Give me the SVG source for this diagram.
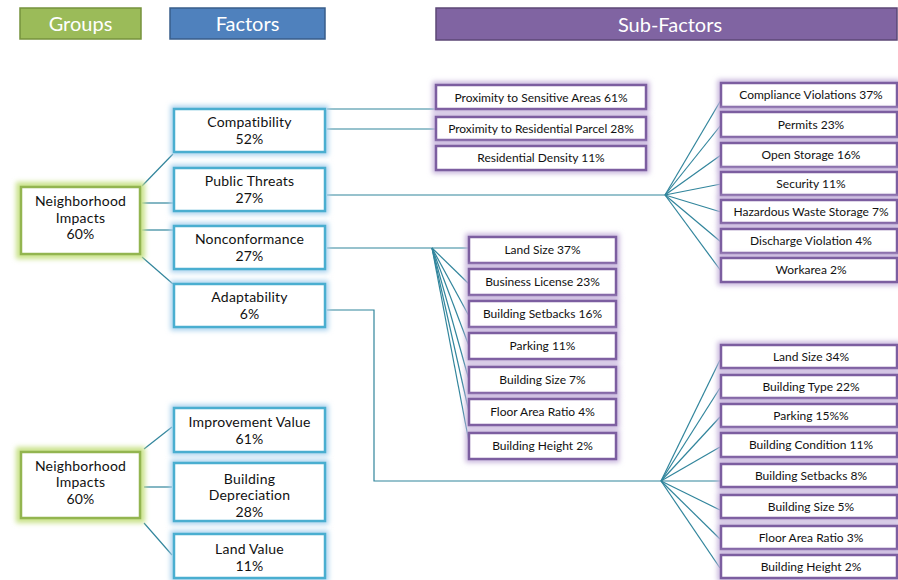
<svg xmlns="http://www.w3.org/2000/svg" width="898" height="580" viewBox="0 0 898 580">
<defs>
<filter id="blur" x="-20%" y="-40%" width="140%" height="180%"><feGaussianBlur stdDeviation="2.5"/></filter>
<style>
.hdr{font-family:Lato,"Liberation Sans",sans-serif;font-size:20px;fill:#ffffff;text-anchor:middle}
.t{font-family:Lato,"Liberation Sans",sans-serif;font-size:14px;letter-spacing:0.2px;fill:#111111;text-anchor:middle}
.s{font-family:Lato,"Liberation Sans",sans-serif;font-size:12px;fill:#111111;text-anchor:middle}
.gg{fill:none;stroke:#c9e28a;stroke-width:10;filter:url(#blur)}
.gb{fill:none;stroke:#a9d2ee;stroke-width:7;filter:url(#blur)}
.gp{fill:none;stroke:#c6b4dc;stroke-width:7;filter:url(#blur)}
.bg{fill:#fff;stroke:#93b550;stroke-width:2.5}
.bb{fill:#fff;stroke:#4aaed0;stroke-width:2.5}
.bp{fill:#fff;stroke:#7c5ea0;stroke-width:2.5}
.c{fill:none;stroke:#31859c;stroke-width:1.2}
</style>
</defs>
<rect width="898" height="580" fill="#ffffff"/>

<g id="header">
<g id="hdr-groups"><rect x="20" y="8" width="121" height="31" fill="#9bbb59" stroke="#76923c" stroke-width="1.5"/><text class="hdr" x="80.5" y="31">Groups</text></g>
<g id="hdr-factors"><rect x="170" y="8" width="155" height="31" fill="#4f81bd" stroke="#385d8a" stroke-width="1.5"/><text class="hdr" x="247.5" y="31">Factors</text></g>
<g id="hdr-subfactors"><rect x="436" y="8" width="461" height="32" fill="#8064a2" stroke="#5c4776" stroke-width="1.5"/><text class="hdr" x="670" y="31.5">Sub-Factors</text></g>
</g>

<g id="connectors">
<line class="c" x1="142" y1="186" x2="173" y2="154"/>
<line class="c" x1="142" y1="203" x2="173" y2="203"/>
<line class="c" x1="142" y1="230" x2="173" y2="230"/>
<line class="c" x1="142" y1="257" x2="173" y2="284"/>
<line class="c" x1="327" y1="109" x2="436" y2="109"/>
<line class="c" x1="327" y1="129" x2="436" y2="129"/>
<line class="c" x1="327" y1="195" x2="665" y2="195"/>
<line class="c" x1="665" y1="195" x2="721" y2="100"/>
<line class="c" x1="665" y1="195" x2="721" y2="125"/>
<line class="c" x1="665" y1="195" x2="721" y2="155"/>
<line class="c" x1="665" y1="195" x2="721" y2="184"/>
<line class="c" x1="665" y1="195" x2="721" y2="212"/>
<line class="c" x1="665" y1="195" x2="721" y2="242"/>
<line class="c" x1="665" y1="195" x2="721" y2="271"/>
<line class="c" x1="327" y1="248" x2="469" y2="248"/>
<line class="c" x1="432" y1="248" x2="469" y2="284"/>
<line class="c" x1="432" y1="248" x2="469" y2="316"/>
<line class="c" x1="432" y1="248" x2="469" y2="346"/>
<line class="c" x1="432" y1="248" x2="469" y2="380"/>
<line class="c" x1="432" y1="248" x2="469" y2="412"/>
<line class="c" x1="432" y1="248" x2="469" y2="442"/>
<polyline class="c" points="327,310 374,310 374,481 661,481"/>
<line class="c" x1="661" y1="481" x2="720" y2="360"/>
<line class="c" x1="661" y1="481" x2="720" y2="388"/>
<line class="c" x1="661" y1="481" x2="720" y2="417"/>
<line class="c" x1="661" y1="481" x2="720" y2="447"/>
<line class="c" x1="661" y1="481" x2="720" y2="481"/>
<line class="c" x1="661" y1="481" x2="720" y2="510"/>
<line class="c" x1="661" y1="481" x2="720" y2="539"/>
<line class="c" x1="661" y1="481" x2="720" y2="568"/>
<line class="c" x1="144" y1="449" x2="172" y2="427"/>
<line class="c" x1="144" y1="487" x2="172" y2="487"/>
<line class="c" x1="144" y1="523" x2="172" y2="555"/>
</g>

<g id="group1"><rect class="gg" x="21" y="187" width="119" height="67"/><rect class="bg" x="21" y="187" width="119" height="67"/>
<text class="t" x="80.5" y="206">Neighborhood</text><text class="t" x="80.5" y="222.5">Impacts</text><text class="t" x="80.5" y="239">60%</text></g>
<g id="group2"><rect class="gg" x="21" y="452" width="119" height="66"/><rect class="bg" x="21" y="452" width="119" height="66"/>
<text class="t" x="80.5" y="470.5">Neighborhood</text><text class="t" x="80.5" y="487">Impacts</text><text class="t" x="80.5" y="503.5">60%</text></g>

<g id="f-compat"><rect class="gb" x="174" y="109" width="151" height="43"/><rect class="bb" x="174" y="109" width="151" height="43"/>
<text class="t" x="249.5" y="127">Compatibility</text><text class="t" x="249.5" y="144">52%</text></g>
<g id="f-threats"><rect class="gb" x="174" y="168" width="151" height="43"/><rect class="bb" x="174" y="168" width="151" height="43"/>
<text class="t" x="249.5" y="185.5">Public Threats</text><text class="t" x="249.5" y="202.5">27%</text></g>
<g id="f-noncon"><rect class="gb" x="174" y="226" width="151" height="43"/><rect class="bb" x="174" y="226" width="151" height="43"/>
<text class="t" x="249.5" y="244">Nonconformance</text><text class="t" x="249.5" y="261">27%</text></g>
<g id="f-adapt"><rect class="gb" x="174" y="284" width="151" height="43"/><rect class="bb" x="174" y="284" width="151" height="43"/>
<text class="t" x="249.5" y="302">Adaptability</text><text class="t" x="249.5" y="319">6%</text></g>
<g id="f-improv"><rect class="gb" x="174" y="408" width="151" height="44"/><rect class="bb" x="174" y="408" width="151" height="44"/>
<text class="t" x="249.5" y="427">Improvement Value</text><text class="t" x="249.5" y="444">61%</text></g>
<g id="f-deprec"><rect class="gb" x="174" y="463" width="151" height="58"/><rect class="bb" x="174" y="463" width="151" height="58"/>
<text class="t" x="249.5" y="483.5">Building</text><text class="t" x="249.5" y="500">Depreciation</text><text class="t" x="249.5" y="516.5">28%</text></g>
<g id="f-landval"><rect class="gb" x="174" y="534" width="151" height="44"/><rect class="bb" x="174" y="534" width="151" height="44"/>
<text class="t" x="249.5" y="553.5">Land Value</text><text class="t" x="249.5" y="570.5">11%</text></g>

<g id="s-sens"><rect class="gp" x="436" y="85" width="210" height="24"/><rect class="bp" x="436" y="85" width="210" height="24"/><text class="s" x="541" y="101.5">Proximity to Sensitive Areas 61%</text></g>
<g id="s-resparcel"><rect class="gp" x="436" y="117" width="210" height="23"/><rect class="bp" x="436" y="117" width="210" height="23"/><text class="s" x="541" y="132.5">Proximity to Residential Parcel 28%</text></g>
<g id="s-resdens"><rect class="gp" x="436" y="146" width="210" height="24"/><rect class="bp" x="436" y="146" width="210" height="24"/><text class="s" x="541" y="162">Residential Density 11%</text></g>

<g id="s-compl"><rect class="gp" x="721" y="83" width="176" height="24"/><rect class="bp" x="721" y="83" width="176" height="24"/><text class="s" x="811" y="99">Compliance Violations 37%</text></g>
<g id="s-permits"><rect class="gp" x="721" y="112" width="176" height="25"/><rect class="bp" x="721" y="112" width="176" height="25"/><text class="s" x="811" y="128.5">Permits 23%</text></g>
<g id="s-openstor"><rect class="gp" x="721" y="143" width="176" height="24"/><rect class="bp" x="721" y="143" width="176" height="24"/><text class="s" x="811" y="159">Open Storage 16%</text></g>
<g id="s-security"><rect class="gp" x="721" y="172" width="176" height="23"/><rect class="bp" x="721" y="172" width="176" height="23"/><text class="s" x="811" y="187.5">Security 11%</text></g>
<g id="s-hazard"><rect class="gp" x="721" y="200" width="176" height="23"/><rect class="bp" x="721" y="200" width="176" height="23"/><text class="s" x="811" y="215.5">Hazardous Waste Storage 7%</text></g>
<g id="s-discharge"><rect class="gp" x="721" y="229" width="176" height="24"/><rect class="bp" x="721" y="229" width="176" height="24"/><text class="s" x="811" y="245">Discharge Violation 4%</text></g>
<g id="s-workarea"><rect class="gp" x="721" y="258" width="176" height="24"/><rect class="bp" x="721" y="258" width="176" height="24"/><text class="s" x="811" y="274">Workarea 2%</text></g>

<g id="s-n-land"><rect class="gp" x="469" y="237" width="147" height="26"/><rect class="bp" x="469" y="237" width="147" height="26"/><text class="s" x="542.5" y="254">Land Size 37%</text></g>
<g id="s-n-license"><rect class="gp" x="469" y="269" width="147" height="26"/><rect class="bp" x="469" y="269" width="147" height="26"/><text class="s" x="542.5" y="286">Business License 23%</text></g>
<g id="s-n-setbacks"><rect class="gp" x="469" y="301" width="147" height="26"/><rect class="bp" x="469" y="301" width="147" height="26"/><text class="s" x="542.5" y="318">Building Setbacks 16%</text></g>
<g id="s-n-parking"><rect class="gp" x="469" y="333" width="147" height="26"/><rect class="bp" x="469" y="333" width="147" height="26"/><text class="s" x="542.5" y="350">Parking 11%</text></g>
<g id="s-n-bsize"><rect class="gp" x="469" y="367" width="147" height="26"/><rect class="bp" x="469" y="367" width="147" height="26"/><text class="s" x="542.5" y="384">Building Size 7%</text></g>
<g id="s-n-far"><rect class="gp" x="469" y="399" width="147" height="26"/><rect class="bp" x="469" y="399" width="147" height="26"/><text class="s" x="542.5" y="416">Floor Area Ratio 4%</text></g>
<g id="s-n-bheight"><rect class="gp" x="469" y="433" width="147" height="26"/><rect class="bp" x="469" y="433" width="147" height="26"/><text class="s" x="542.5" y="450">Building Height 2%</text></g>

<g id="s-a-land"><rect class="gp" x="721" y="345" width="176" height="23"/><rect class="bp" x="721" y="345" width="176" height="23"/><text class="s" x="811" y="360.5">Land Size 34%</text></g>
<g id="s-a-type"><rect class="gp" x="721" y="375" width="176" height="23"/><rect class="bp" x="721" y="375" width="176" height="23"/><text class="s" x="811" y="390.5">Building Type 22%</text></g>
<g id="s-a-parking"><rect class="gp" x="721" y="404" width="176" height="23"/><rect class="bp" x="721" y="404" width="176" height="23"/><text class="s" x="811" y="419.5">Parking 15%%</text></g>
<g id="s-a-cond"><rect class="gp" x="721" y="433" width="176" height="24"/><rect class="bp" x="721" y="433" width="176" height="24"/><text class="s" x="811" y="449">Building Condition 11%</text></g>
<g id="s-a-setbacks"><rect class="gp" x="721" y="464" width="176" height="23"/><rect class="bp" x="721" y="464" width="176" height="23"/><text class="s" x="811" y="479.5">Building Setbacks 8%</text></g>
<g id="s-a-bsize"><rect class="gp" x="721" y="495" width="176" height="23"/><rect class="bp" x="721" y="495" width="176" height="23"/><text class="s" x="811" y="510.5">Building Size 5%</text></g>
<g id="s-a-far"><rect class="gp" x="721" y="526" width="176" height="23"/><rect class="bp" x="721" y="526" width="176" height="23"/><text class="s" x="811" y="541.5">Floor Area Ratio 3%</text></g>
<g id="s-a-bheight"><rect class="gp" x="721" y="555" width="176" height="23"/><rect class="bp" x="721" y="555" width="176" height="23"/><text class="s" x="811" y="570.5">Building Height 2%</text></g>
</svg>
